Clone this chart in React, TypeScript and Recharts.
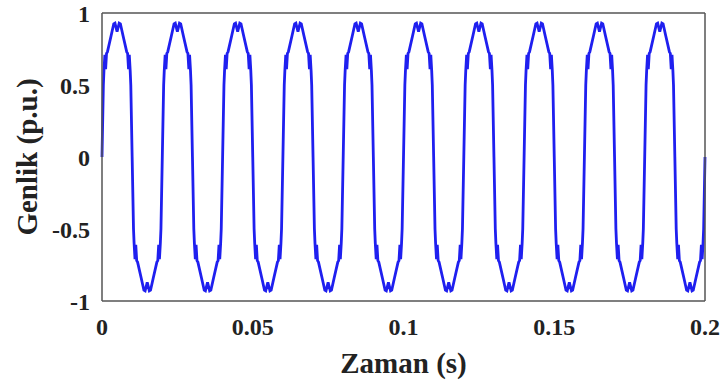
import { LineChart, Line, XAxis, YAxis } from "recharts";

// one period (20 ms) of the waveform: time in ms, amplitude in p.u.
const cycleMs = [
  0, 0.45, 0.65, 0.95, 1.2, 1.5, 1.8, 3.0, 3.9, 4.3, 5.0, 5.7, 6.1, 7.0, 8.2, 8.5, 8.8, 9.05, 9.35, 9.55,
  10.0, 10.45, 10.65, 10.95, 11.2, 11.5, 11.8, 13.0, 13.9, 14.3, 15.0, 15.7, 16.1, 17.0, 18.2, 18.5, 18.8, 19.05, 19.35, 19.55,
];
const cycleValues = [
  0, 0.5, 0.6, 0.71, 0.61, 0.72, 0.73, 0.84, 0.925, 0.93, 0.87, 0.93, 0.925, 0.84, 0.73, 0.72, 0.61, 0.71, 0.6, 0.5,
  0, -0.5, -0.6, -0.71, -0.61, -0.72, -0.73, -0.84, -0.925, -0.93, -0.87, -0.93, -0.925, -0.84, -0.73, -0.72, -0.61, -0.71, -0.6, -0.5,
];
const periodMs = 20;
const cycleCount = 10;

const xTicks = [0, 0.05, 0.1, 0.15, 0.2];
const yTicks = [-1, -0.5, 0, 0.5, 1];

const data: { t: number; v: number }[] = [];
for (let k = 0; k < cycleCount; k++) {
  cycleMs.forEach((ms, i) => {
    data.push({ t: (k * periodMs + ms) / 1000, v: cycleValues[i] });
  });
}
data.push({ t: (cycleCount * periodMs) / 1000, v: 0 });

const font = "'Liberation Serif', 'Times New Roman', serif";
const boxColor = "#555";
const tickStyle = { fontFamily: font, fontWeight: 700, fontSize: 24, fill: "#222" };
const labelStyle = { fontFamily: font, fontWeight: 700, fontSize: 29, fill: "#222" };

export default function App() {
  return (
    <div style={{ position: "fixed", left: 0, top: 0, background: "#fff" }}>
      <LineChart
        width={720}
        height={385}
        data={data}
        margin={{ top: 13, right: 15, bottom: 0, left: 0 }}
      >
        <XAxis
          xAxisId="main"
          dataKey="t"
          type="number"
          domain={[0, 0.2]}
          ticks={xTicks}
          height={84}
          tickSize={0}
          tickMargin={17}
          axisLine={{ stroke: boxColor, strokeWidth: 1.5 }}
          tick={tickStyle}
          label={{ value: "Zaman (s)", position: "insideBottom", offset: 12, style: labelStyle }}
        />
        <XAxis
          xAxisId="bottomTicks"
          type="number"
          domain={[0, 0.2]}
          ticks={xTicks}
          mirror
          tickSize={5}
          tick={false}
          axisLine={false}
          tickLine={{ stroke: boxColor }}
        />
        <XAxis
          xAxisId="top"
          orientation="top"
          type="number"
          domain={[0, 0.2]}
          ticks={xTicks}
          mirror
          tickSize={5}
          tick={false}
          axisLine={{ stroke: boxColor, strokeWidth: 1.5 }}
          tickLine={{ stroke: boxColor }}
        />
        <YAxis
          yAxisId="main"
          type="number"
          domain={[-1, 1]}
          ticks={yTicks}
          width={102}
          tickSize={0}
          tickMargin={12}
          axisLine={{ stroke: boxColor, strokeWidth: 1.5 }}
          tick={tickStyle}
          label={{
            value: "Genlik (p.u.)",
            angle: -90,
            position: "insideLeft",
            offset: 27,
            style: { ...labelStyle, textAnchor: "middle" },
          }}
        />
        <YAxis
          yAxisId="leftTicks"
          type="number"
          domain={[-1, 1]}
          ticks={yTicks}
          mirror
          tickSize={5}
          tick={false}
          axisLine={false}
          tickLine={{ stroke: boxColor }}
        />
        <YAxis
          yAxisId="right"
          orientation="right"
          type="number"
          domain={[-1, 1]}
          ticks={yTicks}
          mirror
          tickSize={5}
          tick={false}
          axisLine={{ stroke: boxColor, strokeWidth: 1.5 }}
          tickLine={{ stroke: boxColor }}
        />
        <Line
          xAxisId="main"
          yAxisId="main"
          dataKey="v"
          type="linear"
          stroke="#1f1fef"
          strokeWidth={2.8}
          dot={false}
          isAnimationActive={false}
        />
      </LineChart>
    </div>
  );
}
